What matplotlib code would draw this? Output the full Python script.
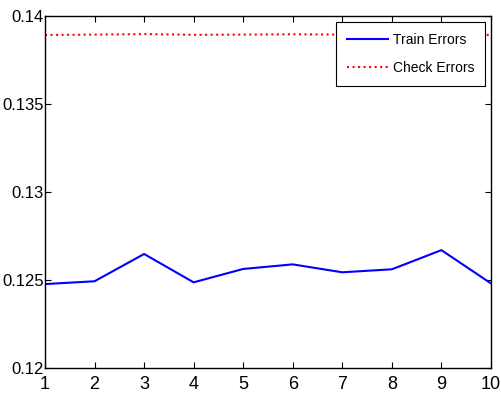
import matplotlib
matplotlib.use("Agg")
import matplotlib.pyplot as plt

# errors per epoch
epochs = [1, 2, 3, 4, 5, 6, 7, 8, 9, 10]
train_errors = [0.12477, 0.12493, 0.12648, 0.12487, 0.12563,
                0.12589, 0.12544, 0.12561, 0.12670, 0.12481]
check_errors = [0.13893, 0.13895, 0.13898, 0.13894, 0.13895,
                0.13897, 0.13895, 0.13894, 0.13896, 0.13893]

y_ticks = [0.12, 0.125, 0.13, 0.135, 0.14]
y_labels = ["0.12", "0.125", "0.13", "0.135", "0.14"]

plt.rcParams['font.family'] = ['Liberation Sans', 'DejaVu Sans']

fig = plt.figure(figsize=(5.02, 3.94), dpi=100)
ax = fig.add_axes([0.0896, 0.066, 0.8884, 0.893])

ax.plot(epochs, train_errors, color='#0000ff', linewidth=1.5, label='Train Errors')
ax.plot(epochs, check_errors, color='#ff0000', linewidth=1.5, linestyle=':', label='Check Errors')

ax.set_xlim(1, 10)
ax.set_ylim(0.12, 0.14)
ax.set_xticks(epochs)
ax.set_yticks(y_ticks)
ax.set_yticklabels(y_labels)
ax.tick_params(direction='in', top=True, right=True, length=4, width=0.8)
ax.tick_params(axis='x', labelsize=13, pad=6)
ax.tick_params(axis='y', labelsize=12, pad=1)
for s in ax.spines.values():
    s.set_linewidth(1.0)

leg = ax.legend(loc='upper right', fontsize=10, frameon=True, fancybox=False,
                edgecolor='black', framealpha=1, handlelength=2.95,
                borderaxespad=0.4, borderpad=0.8, labelspacing=1.0,
                handletextpad=0.36)
leg.get_frame().set_linewidth(0.8)

fig.savefig("out.png", dpi=100)
